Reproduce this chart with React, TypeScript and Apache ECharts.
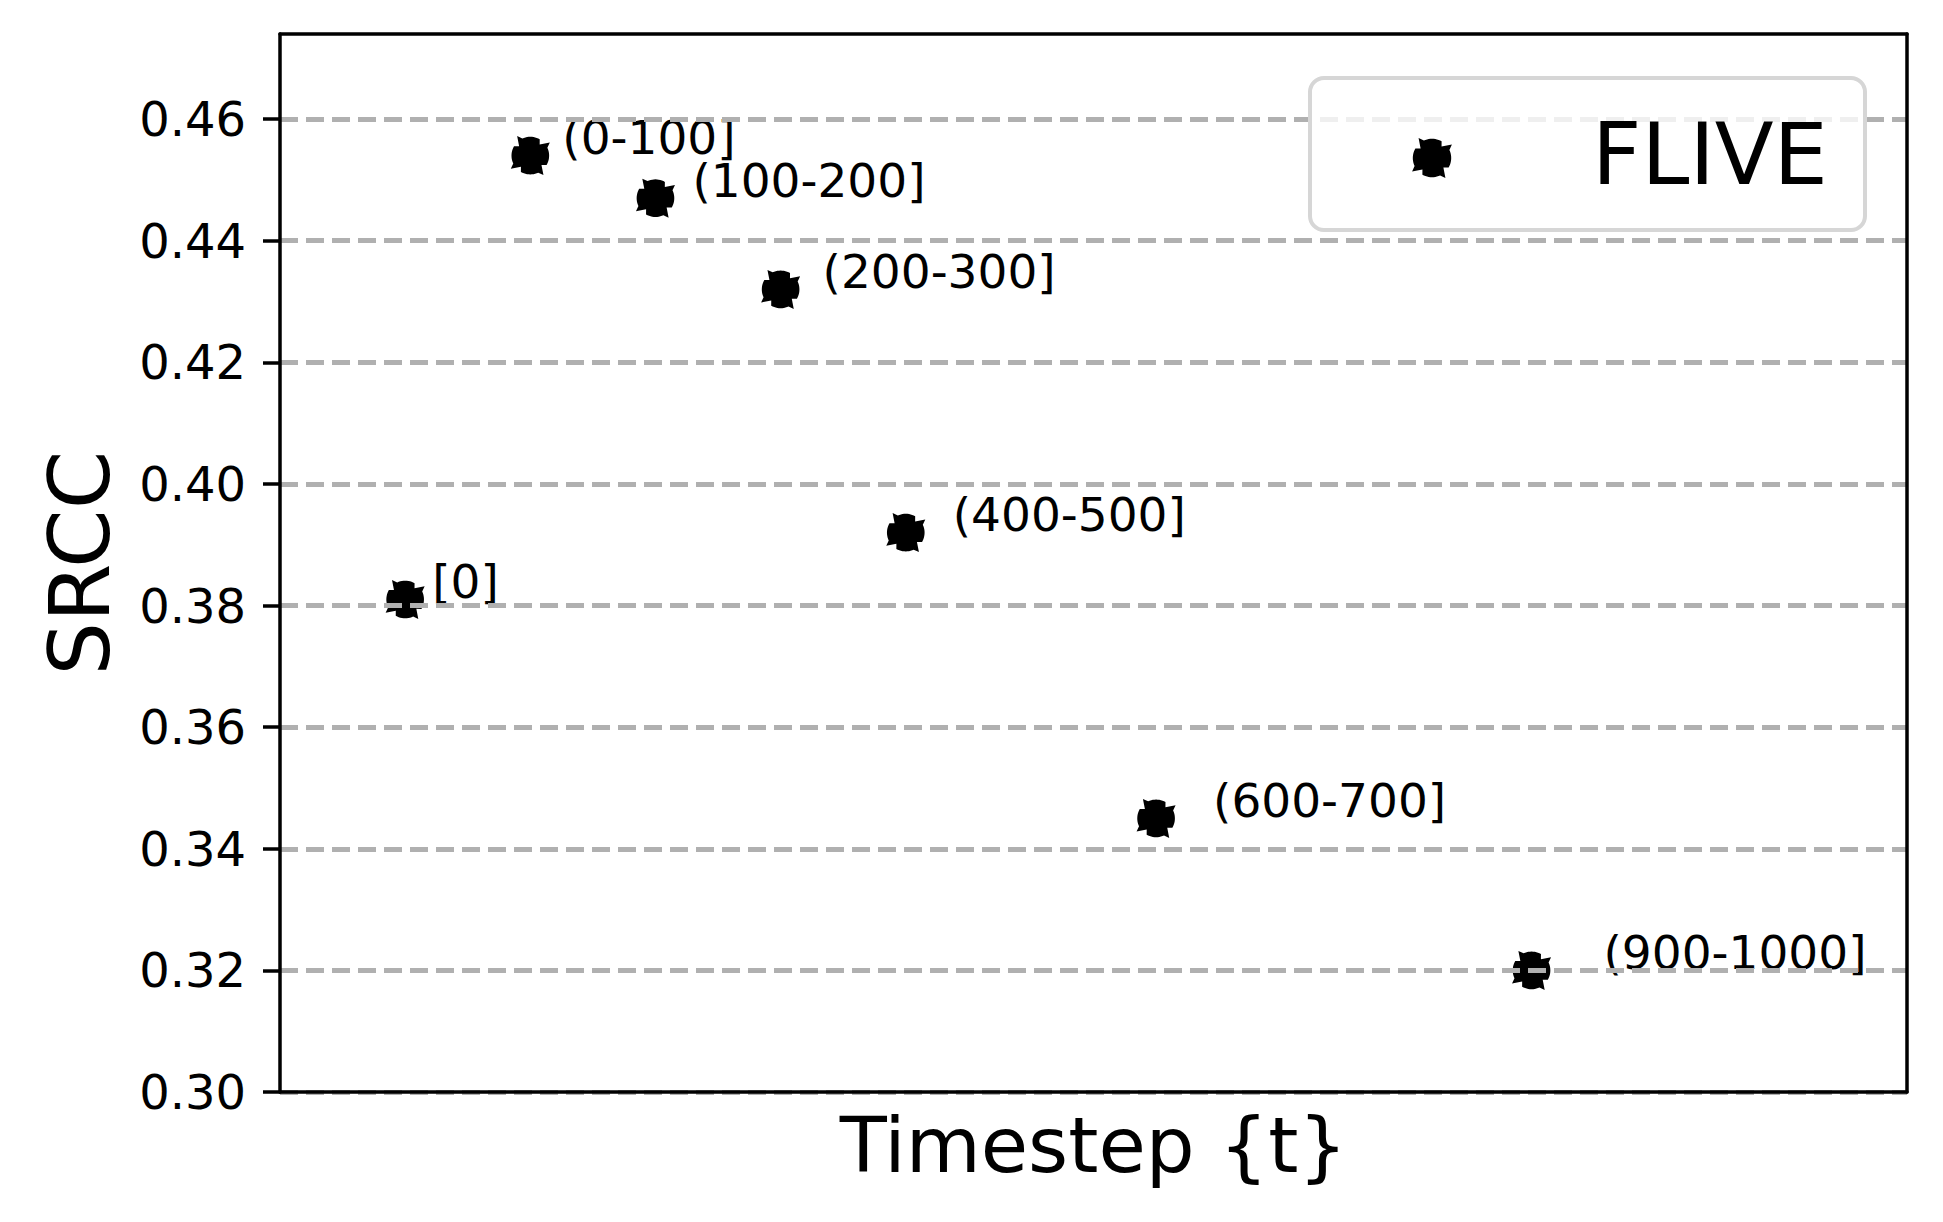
import React, { useEffect, useRef } from "react";
import * as echarts from "echarts";

// ---- data ----
const pointLabels = ["[0]", "(0-100]", "(100-200]", "(200-300]", "(400-500]", "(600-700]", "(900-1000]"];
const xPositions = [0, 1, 2, 3, 4, 6, 9];
const srccValues = [0.381, 0.454, 0.447, 0.432, 0.392, 0.345, 0.32];
const yTicks = [0.3, 0.32, 0.34, 0.36, 0.38, 0.4, 0.42, 0.44, 0.46];
const seriesName = "FLIVE";
const xAxisTitle = "Timestep {t}";
const yAxisTitle = "SRCC";

const FONT = "DejaVu Sans";

// marker shape: filled disc with four tangential hooks (unit radius, centred on 0,0)
function markerPath(): string {
  const pt = (r: number, deg: number) => {
    const t = (deg * Math.PI) / 180;
    return `${(r * Math.cos(t)).toFixed(4)} ${(-r * Math.sin(t)).toFixed(4)}`;
  };
  const parts: string[] = [];
  for (let k = 0; k < 4; k++) {
    const a = -30 + 90 * k;
    for (let d = 0; d <= 55; d += 5) {
      parts.push((parts.length === 0 ? "M " : "L ") + pt(0.8, a + d));
    }
    parts.push("L " + pt(1.0, a + 64));
    parts.push("L " + pt(0.62, a + 80));
    parts.push("L " + pt(0.8, a + 90));
  }
  return parts.join(" ") + " Z";
}

const MARKER_D = markerPath();
let registered = false;
function ensureShape() {
  if (registered) return;
  registered = true;
  echarts.graphic.registerShape("fliveMarker", echarts.graphic.extendPath(MARKER_D, {}) as any);
}

export default function App() {
  const ref = useRef<HTMLDivElement>(null);

  useEffect(() => {
    if (!ref.current) return;
    ensureShape();
    const chart = echarts.init(ref.current, undefined, { renderer: "svg" });

    const symbolSize = 39;
    const data = xPositions.map((x, i) => ({
      value: [x, srccValues[i]],
      label: {
        show: true,
        formatter: pointLabels[i],
        position: [symbolSize / 2 + 27 + 5 * x, symbolSize / 2 - 18],
        align: "left",
        verticalAlign: "middle",
        fontSize: 47,
        fontFamily: FONT,
        color: "#000",
      },
    }));

    const frameLine = { show: true, onZero: false, lineStyle: { color: "#000", width: 3.5 } };

    chart.setOption({
      animation: false,
      backgroundColor: "#fff",
      grid: { left: 280, right: 36, top: 34, bottom: 130, containLabel: false },
      xAxis: [
        {
          type: "value",
          min: -1,
          max: 12,
          z: 3,
          axisLine: frameLine,
          axisTick: { show: false },
          axisLabel: { show: false },
          splitLine: { show: false },
          name: xAxisTitle,
          nameLocation: "middle",
          nameGap: 15,
          nameTextStyle: { fontSize: 77, fontFamily: FONT, color: "#000", verticalAlign: "top" },
        },
        {
          type: "value",
          position: "top",
          min: -1,
          max: 12,
          z: 4,
          axisLine: frameLine,
          axisTick: { show: false },
          axisLabel: { show: false },
          splitLine: { show: false },
        },
      ],
      yAxis: [
        {
          type: "value",
          min: 0.3,
          max: 0.474,
          interval: 0.02,
          z: 3,
          axisLine: frameLine,
          axisTick: {
            show: true,
            length: 17,
            customValues: yTicks,
            lineStyle: { color: "#000", width: 3.5 },
          },
          axisLabel: {
            customValues: yTicks,
            formatter: (v: number) => v.toFixed(2),
            fontSize: 48,
            fontFamily: FONT,
            color: "#000",
            margin: 34,
          },
          splitLine: {
            show: true,
            lineStyle: { color: "#b0b0b0", width: 4.8, type: [18, 8] },
          },
          name: yAxisTitle,
          nameLocation: "middle",
          nameGap: 158,
          nameTextStyle: { fontSize: 84, fontFamily: FONT, color: "#000" },
        },
        {
          type: "value",
          position: "right",
          min: 0.3,
          max: 0.474,
          z: 4,
          axisLine: frameLine,
          axisTick: { show: false },
          axisLabel: { show: false },
          splitLine: { show: false },
        },
      ],
      series: [
        {
          name: seriesName,
          type: "scatter",
          z: 1,
          xAxisIndex: 0,
          yAxisIndex: 0,
          symbol: "path://" + MARKER_D,
          symbolSize,
          itemStyle: { color: "#000", opacity: 1 },
          data,
        },
      ],
      graphic: [
        {
          type: "rect",
          z: 10,
          shape: { x: 1310, y: 78, width: 555, height: 152, r: 14 },
          style: { fill: "rgba(255,255,255,0.8)", stroke: "#d6d6d6", lineWidth: 4 },
        },
        {
          type: "fliveMarker",
          z: 11,
          x: 1432,
          y: 158,
          scaleX: 24,
          scaleY: 24,
          style: { fill: "#000" },
        },
        {
          type: "text",
          z: 11,
          x: 1592,
          y: 154,
          style: {
            text: seriesName,
            fontSize: 86,
            fontFamily: FONT,
            fill: "#000",
            align: "left",
            verticalAlign: "middle",
          },
        },
      ],
    });

    return () => chart.dispose();
  }, []);

  return (
    <div
      ref={ref}
      style={{ position: "fixed", left: 0, top: 0, width: 1943, height: 1222, background: "#fff" }}
    />
  );
}
